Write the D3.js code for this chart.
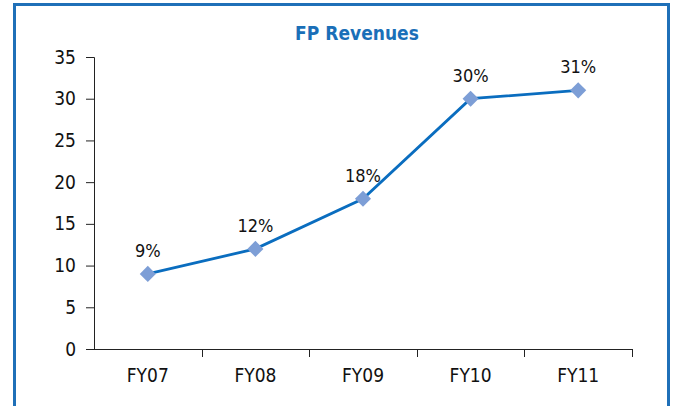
<!DOCTYPE html>
<html>
<head>
<meta charset="utf-8">
<script src="https://cdn.jsdelivr.net/npm/d3@7"></script>
<style>
  body { margin: 0; background: #fff; }
  svg text { font-family: "DejaVu Sans Condensed", "DejaVu Sans", sans-serif; }
</style>
</head>
<body>
<div id="chart"></div>
<script>
// données
const years = ["FY07", "FY08", "FY09", "FY10", "FY11"];
const revenues = [9, 12, 18, 30, 31];
const labels = ["9%", "12%", "18%", "30%", "31%"];
const yTicks = [0, 5, 10, 15, 20, 25, 30, 35];

const W = 673, H = 406;
const margin = {top: 57, right: 41, bottom: 57, left: 94},
    width = W - margin.left - margin.right,
    height = H - margin.top - margin.bottom;

const svg = d3.select("#chart").append("svg")
    .attr("width", W)
    .attr("height", H);

// cadre bleu (ouvert en bas)
svg.append("path")
    .attr("d", "M14.5," + H + " V4.5 H668.5 V" + H)
    .attr("fill", "none")
    .attr("stroke", "#1f70b8")
    .attr("stroke-width", 3);

svg.append("text")
    .attr("x", 357)
    .attr("y", 40)
    .attr("text-anchor", "middle")
    .attr("fill", "#1a6fb8")
    .attr("font-weight", "bold")
    .attr("font-size", 19)
    .text("FP Revenues");

const g = svg.append("g")
    .attr("transform", "translate(" + margin.left + "," + margin.top + ")");

const x = d3.scaleBand().domain(years).range([0, width]);
const y = d3.scaleLinear().domain([0, 35]).range([height, 0]);

// axe Y
const yAxis = g.append("g")
    .call(d3.axisLeft(y).tickValues(yTicks).tickSize(8).tickPadding(10));
yAxis.selectAll("text").attr("font-size", 19).attr("fill", "#111");
yAxis.select(".domain").attr("d", "M-8,0.5H0.5V" + (height + 0.5));
yAxis.selectAll("line, path").attr("stroke", "#222");

// axe X : les tirets sont aux limites des catégories
const xAxis = g.append("g")
    .attr("transform", "translate(0," + height + ")");
xAxis.append("line")
    .attr("x1", -8).attr("x2", width)
    .attr("y1", 0.5).attr("y2", 0.5)
    .attr("stroke", "#222");
xAxis.selectAll(".tick-b").data(years.map(d => x(d) + x.bandwidth()))
    .enter().append("line")
    .attr("x1", d => Math.round(d) + 0.5).attr("x2", d => Math.round(d) + 0.5)
    .attr("y1", 0).attr("y2", 8)
    .attr("stroke", "#222");
xAxis.selectAll(".lab").data(years).enter().append("text")
    .attr("x", d => x(d) + x.bandwidth() / 2)
    .attr("y", 33)
    .attr("text-anchor", "middle")
    .attr("font-size", 19)
    .attr("fill", "#111")
    .text(d => d);

const data = years.map((d, i) => ({year: d, value: revenues[i], label: labels[i]}));
const cx = d => x(d.year) + x.bandwidth() / 2;

const line = d3.line()
    .x(cx)
    .y(d => y(d.value));

g.append("path")
    .datum(data)
    .attr("fill", "none")
    .attr("stroke", "#0a6dbf")
    .attr("stroke-width", 2.8)
    .attr("d", line);

g.selectAll(".pt").data(data).enter().append("path")
    .attr("transform", d => "translate(" + cx(d) + "," + y(d.value) + ")")
    .attr("d", d3.symbol().type(d3.symbolDiamond2).size(165))
    .attr("fill", "#7d9ed6");

g.selectAll(".val").data(data).enter().append("text")
    .attr("x", cx)
    .attr("y", d => y(d.value) - 17)
    .attr("text-anchor", "middle")
    .attr("font-size", 18)
    .attr("fill", "#111")
    .text(d => d.label);
</script>
</body>
</html>
